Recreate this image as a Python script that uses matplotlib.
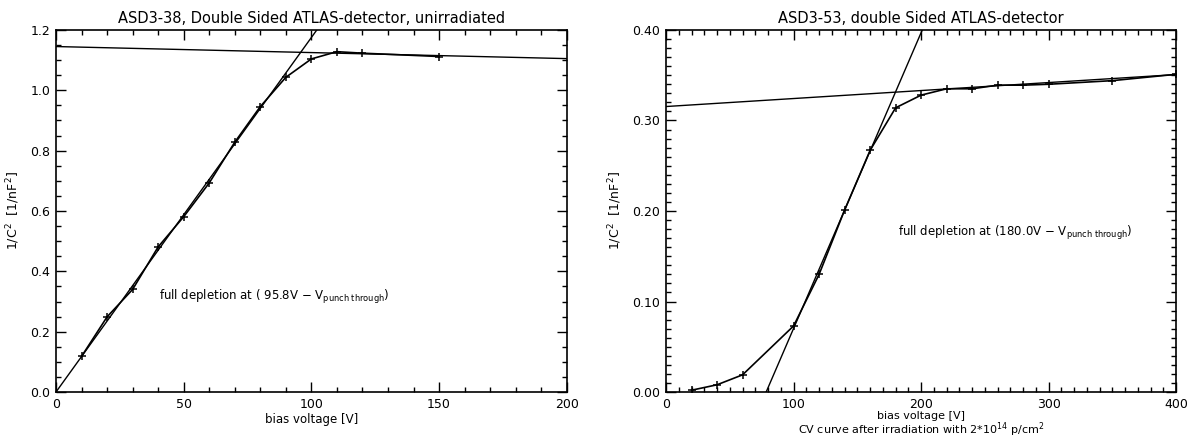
import matplotlib
matplotlib.use("Agg")
import matplotlib.pyplot as plt
from matplotlib.ticker import MultipleLocator, FormatStrFormatter
import numpy as np

# unirradiated detector ASD3-38
v_unirr = [10, 20, 30, 40, 50, 60, 70, 80, 90, 100, 110, 120, 150]
c2_unirr = [0.118, 0.249, 0.340, 0.481, 0.581, 0.693, 0.828, 0.946, 1.043, 1.104, 1.128, 1.123, 1.112]
# linear fits: rising slope (through origin) and plateau
rise_unirr = (0.01175, 0.0)
plateau_unirr = (-0.0002, 1.145)

# irradiated detector ASD3-53
v_irr = [20, 40, 60, 100, 120, 140, 160, 180, 200, 220, 240, 260, 280, 300, 350, 400]
c2_irr = [0.002, 0.008, 0.019, 0.073, 0.130, 0.201, 0.267, 0.314, 0.328, 0.335, 0.335, 0.339, 0.339, 0.340, 0.344, 0.351]
rise_irr = (0.003268, -0.003268 * 78.5)
plateau_irr = (0.0000883, 0.3154)

plt.rcParams['font.family'] = ['DejaVu Sans']
plt.rcParams['mathtext.fontset'] = 'dejavusans'

fig = plt.figure(figsize=(11.99, 4.47), dpi=100)
ax1 = fig.add_axes([0.0467, 0.123, 0.426, 0.810])
ax2 = fig.add_axes([0.5555, 0.123, 0.4255, 0.810])


def style(ax, xmaj, xmin, ymaj, ymin, yfmt):
    ax.xaxis.set_major_locator(MultipleLocator(xmaj))
    ax.xaxis.set_minor_locator(MultipleLocator(xmin))
    ax.yaxis.set_major_locator(MultipleLocator(ymaj))
    ax.yaxis.set_minor_locator(MultipleLocator(ymin))
    ax.yaxis.set_major_formatter(FormatStrFormatter(yfmt))
    ax.tick_params(which='both', direction='in', top=True, right=True, labelsize=9, width=1.0)
    ax.tick_params(which='major', length=7, pad=4)
    ax.tick_params(which='minor', length=3.5)
    for s in ax.spines.values():
        s.set_linewidth(1.2)


def fit_line(ax, fit, x0, x1):
    xs = np.array([x0, x1])
    ax.plot(xs, fit[0] * xs + fit[1], color='black', lw=1.0)


# left panel
ax1.plot(v_unirr, c2_unirr, color='black', lw=1.2, marker='+', ms=6, mew=1.1)
fit_line(ax1, rise_unirr, 0, 200)
fit_line(ax1, plateau_unirr, 0, 200)
ax1.set_xlim(0, 200)
ax1.set_ylim(0, 1.2)
style(ax1, 50, 10, 0.2, 0.05, '%.1f')
ax1.set_title('ASD3-38, Double Sided ATLAS-detector, unirradiated', fontsize=10.5, pad=5)
ax1.set_xlabel('bias voltage [V]', fontsize=8.5, labelpad=2)
ax1.set_ylabel(r'1/C$^2$  [1/nF$^2$]', fontsize=9, labelpad=6)
ax1.text(40.5, 0.315, r'full depletion at ( 95.8V $-$ V$_{\mathrm{punch\ through}}$)',
         fontsize=8.5, va='center')

# right panel
ax2.plot(v_irr, c2_irr, color='black', lw=1.2, marker='+', ms=6, mew=1.1)
fit_line(ax2, rise_irr, 0, 400)
fit_line(ax2, plateau_irr, 0, 400)
ax2.set_xlim(0, 400)
ax2.set_ylim(0, 0.40)
style(ax2, 100, 10, 0.10, 0.01, '%.2f')
ax2.set_title('ASD3-53, double Sided ATLAS-detector', fontsize=10.5, pad=5)
ax2.set_xlabel('bias voltage [V]\nCV curve after irradiation with 2$*$10$^{14}$ p/cm$^2$',
               fontsize=8, labelpad=0, linespacing=1.0)
ax2.set_ylabel(r'1/C$^2$  [1/nF$^2$]', fontsize=9, labelpad=6)
ax2.text(182, 0.176, r'full depletion at (180.0V $-$ V$_{\mathrm{punch\ through}}$)',
         fontsize=8.5, va='center')

fig.savefig('out.png', dpi=100)
